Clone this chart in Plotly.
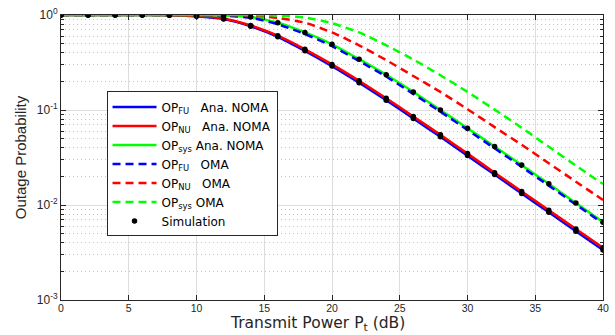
import plotly.graph_objects as go

# Transmit power grid (dB)
power_db = [0, 2, 4, 6, 8, 10, 12, 14, 16, 18, 20, 22, 24, 26, 28, 30, 32, 34, 36, 38, 40]

# Analytical outage probabilities, NOMA
op_fu_noma = [1.0, 1.0, 1.0, 0.9997, 0.995, 0.970, 0.905, 0.760, 0.590, 0.420, 0.290,
              0.194, 0.127, 0.0815, 0.0522, 0.0331, 0.0209, 0.0132, 0.0084, 0.0053, 0.00336]
op_nu_noma = [1.0, 1.0, 1.0, 0.9998, 0.996, 0.975, 0.918, 0.775, 0.605, 0.435, 0.302,
              0.203, 0.133, 0.0855, 0.0548, 0.0348, 0.0219, 0.0139, 0.0088, 0.0056, 0.00355]
op_sys_noma = [1.0, 1.0, 1.0, 1.0, 0.9999, 0.998, 0.990, 0.952, 0.828, 0.655, 0.492,
               0.343, 0.235, 0.155, 0.100, 0.0643, 0.0412, 0.0263, 0.0167, 0.0105, 0.0066]

# Outage probabilities, OMA benchmark
op_fu_oma = [1.0, 1.0, 1.0, 1.0, 0.9998, 0.997, 0.985, 0.935, 0.800, 0.630, 0.470,
             0.328, 0.225, 0.148, 0.096, 0.0617, 0.0395, 0.0252, 0.0160, 0.0101, 0.0064]
op_nu_oma = [1.0, 1.0, 1.0, 1.0, 1.0, 1.0, 0.999, 0.985, 0.930, 0.830, 0.655,
             0.480, 0.335, 0.228, 0.155, 0.102, 0.066, 0.043, 0.0275, 0.0176, 0.0113]
op_sys_oma = [1.0, 1.0, 1.0, 1.0, 1.0, 1.0, 0.9999, 0.998, 0.985, 0.940, 0.820,
              0.655, 0.480, 0.340, 0.232, 0.155, 0.101, 0.065, 0.041, 0.026, 0.0166]

# Monte Carlo simulation results (NOMA)
sim_fu = op_fu_noma
sim_nu = op_nu_noma
sim_sys = op_sys_noma

NB = "\u00a0"
lines = [
    (op_fu_noma, "#0000ff", "solid", f"OP<sub>FU</sub>{NB * 3}Ana. NOMA"),
    (op_nu_noma, "#ff0000", "solid", f"OP<sub>NU</sub>{NB * 3}Ana. NOMA"),
    (op_sys_noma, "#00ff00", "solid", f"OP<sub>sys</sub>{NB}Ana. NOMA"),
    (op_fu_oma, "#0000ff", "8px,5px", f"OP<sub>FU</sub>{NB * 3}OMA"),
    (op_nu_oma, "#ff0000", "8px,5px", f"OP<sub>NU</sub>{NB * 3}OMA"),
    (op_sys_oma, "#00ff00", "8px,5px", f"OP<sub>sys</sub>{NB}OMA"),
]

fig = go.Figure()
for vals, color, dash, name in lines:
    fig.add_trace(go.Scatter(
        x=power_db, y=vals, mode="lines", name=name,
        line=dict(color=color, width=2.5, dash=dash, shape="spline", smoothing=0.6),
    ))

for i, sim in enumerate([sim_fu, sim_nu, sim_sys]):
    fig.add_trace(go.Scatter(
        x=power_db, y=sim, mode="markers", name="Simulation",
        marker=dict(color="black", size=5.5), showlegend=(i == 0),
    ))

minor_y = [k * 10.0 ** e for e in (-3, -2, -1) for k in range(2, 10)]
axis_color = "#262626"

fig.update_layout(
    width=615, height=335,
    margin=dict(l=61, r=6, t=13, b=35),
    paper_bgcolor="white", plot_bgcolor="white",
    font=dict(family="Liberation Sans, Arial, sans-serif", color=axis_color, size=11),
    showlegend=True,
    legend=dict(
        x=0.084, y=0.732, xanchor="left", yanchor="top",
        bgcolor="white", bordercolor=axis_color, borderwidth=1,
        font=dict(family="DejaVu Sans, sans-serif", size=12, color="black"),
        itemwidth=44, tracegroupgap=0,
    ),
    xaxis=dict(
        range=[0, 40], tick0=0, dtick=5,
        showline=True, linecolor=axis_color, linewidth=1, mirror="ticks",
        ticks="inside", ticklen=5, tickcolor=axis_color,
        showgrid=True, gridcolor="#dedede", gridwidth=1,
        zeroline=False,
        tickfont=dict(size=10.5), ticklabelstandoff=-2,
    ),
    yaxis=dict(
        type="log", range=[-3, 0],
        tickvals=[1, 0.1, 0.01, 0.001],
        ticktext=["10<sup>0</sup>", "10<sup>-1</sup>", "10<sup>-2</sup>", "10<sup>-3</sup>"],
        showline=True, linecolor=axis_color, linewidth=1, mirror="ticks",
        ticks="inside", ticklen=5, tickcolor=axis_color,
        showgrid=True, gridcolor="#dedede", gridwidth=1,
        zeroline=False,
        tickfont=dict(size=12),
        minor=dict(tickvals=minor_y, ticks="inside", ticklen=3, tickcolor=axis_color,
                   showgrid=True, gridcolor="#c4c4c4", griddash="1px,3px", gridwidth=1),
        title=dict(text="Outage Probability", font=dict(size=15), standoff=6),
    ),
)

# x-axis label placed just under the tick labels
fig.add_annotation(
    text="Transmit Power P<sub>t</sub> (dB)",
    xref="paper", yref="paper", x=0.474, y=-0.122,
    xanchor="center", yanchor="bottom", showarrow=False, borderpad=0,
    font=dict(family="DejaVu Sans, sans-serif", size=15.5, color=axis_color),
)

fig.write_html("out.html")
